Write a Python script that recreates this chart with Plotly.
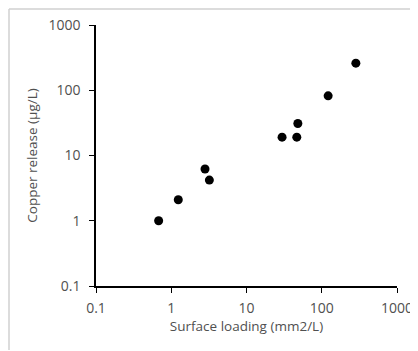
import plotly.graph_objects as go

surface_loading = [0.68, 1.24, 2.81, 3.21, 29.7, 46.6, 48.1, 121.6, 284]
copper_release = [1.0, 2.1, 6.2, 4.2, 19.1, 19.1, 30.9, 82, 260]
tick_vals = [0.1, 1, 10, 100, 1000]
tick_text = ["0.1", "1", "10", "100", "1000"]

# page body has an 8px margin; the figure starts at (8, 8) in the window
W, H = 410, 343
L, R, T, B = 88, 21, 17, 65

fig = go.Figure()
fig.add_trace(go.Scatter(
    x=surface_loading, y=copper_release, mode="markers",
    marker=dict(color="black", size=9),
    showlegend=False, hoverinfo="x+y"))

font_col = "#505050"
axis_common = dict(
    type="log", showgrid=False, zeroline=False, showline=True,
    linecolor="black", linewidth=1.5, ticks="outside", ticklen=5,
    tickcolor="black", tickwidth=1.2, tickvals=tick_vals, ticktext=tick_text,
    tickfont=dict(size=14, color=font_col, family="Open Sans"),
    range=[-1, 3], ticklabeloverflow="allow",
)

fig.update_layout(
    width=W, height=H,
    margin=dict(l=L, r=R, t=T, b=B, autoexpand=False),
    paper_bgcolor="white", plot_bgcolor="white",
    xaxis=dict(**axis_common, ticklabelstandoff=3,
               title=dict(text="Surface loading (mm2/L)", standoff=5,
                          font=dict(size=13.5, color=font_col, family="Open Sans"))),
    yaxis=dict(**axis_common, ticklabelstandoff=6,
               title=dict(text="Copper release (µg/L)", standoff=8,
                          font=dict(size=13.5, color=font_col, family="Open Sans"))),
)

pw, ph = W - L - R, H - T - B
def px_x(p): return (p - L) / pw
def px_y(p): return (H - B - p) / ph
border = dict(color="#d0d0d0", width=1.5)
fig.add_shape(type="line", xref="paper", yref="paper",
              x0=px_x(1), x1=px_x(1), y0=px_y(H - 1), y1=px_y(1), line=border, layer="above")
fig.add_shape(type="line", xref="paper", yref="paper",
              x0=px_x(1), x1=px_x(W - 1), y0=px_y(1), y1=px_y(1), line=border, layer="above")

fig.write_html("out.html")
